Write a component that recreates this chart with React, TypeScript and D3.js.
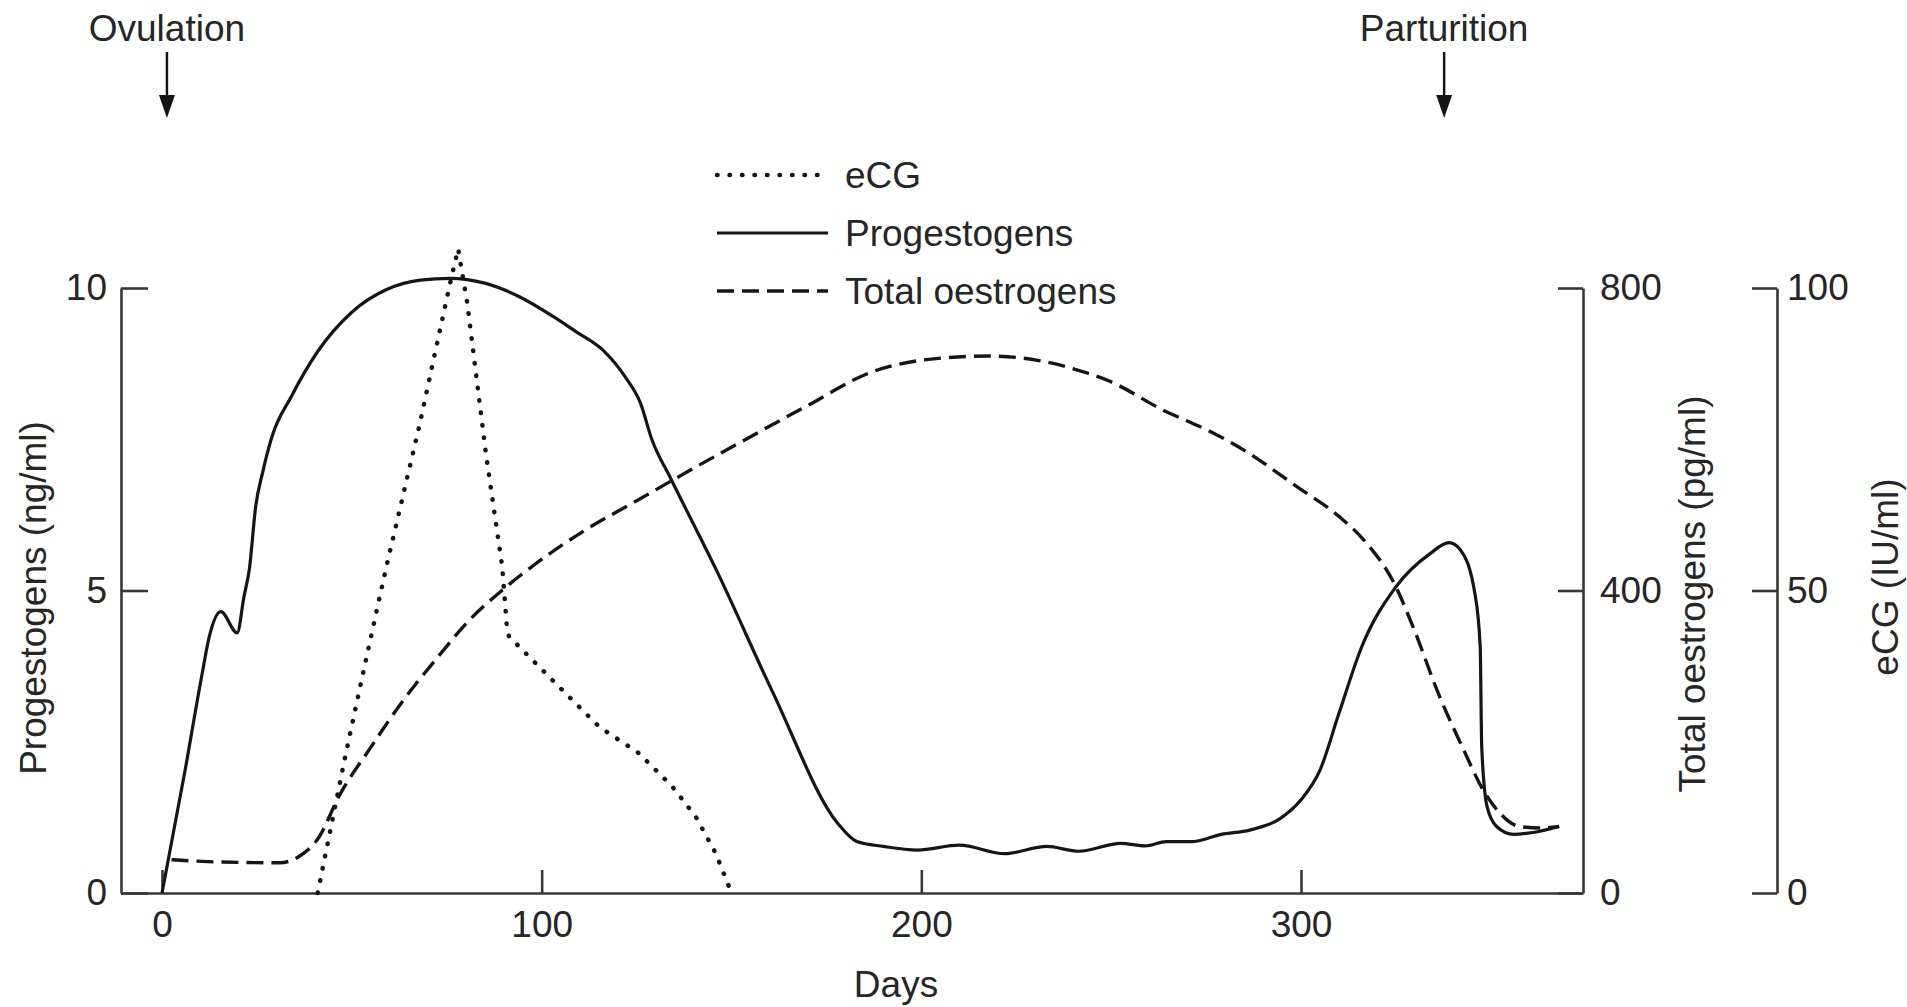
import React, { useRef, useEffect } from "react";
import * as d3 from "d3";

// progestogens (ng/ml), left axis
const progDays = [0, 6, 10.5, 12.5, 15.5, 19.8, 21.6, 23, 24.7, 26.5, 29, 34, 41, 50, 59, 68, 76, 85, 94, 103, 109, 116, 122, 126, 129, 134, 146, 161, 178, 183, 190, 199, 210, 222, 233, 241.5, 252.5, 259, 264.5, 271.5, 279, 286.5, 294.5, 300, 305, 310, 316, 325, 334, 339, 342, 345.8, 347.2, 347.6, 349, 351.5, 356, 361, 368];
const progValues = [0, 2.0, 3.6, 4.25, 4.65, 4.3, 4.9, 5.35, 6.4, 6.95, 7.55, 8.2, 8.95, 9.6, 9.97, 10.13, 10.16, 10.08, 9.86, 9.53, 9.28, 8.98, 8.53, 8.1, 7.5, 6.85, 5.34, 3.3, 1.15, 0.85, 0.77, 0.71, 0.79, 0.65, 0.77, 0.69, 0.82, 0.78, 0.85, 0.85, 0.97, 1.04, 1.23, 1.54, 2.03, 2.97, 4.07, 5.06, 5.61, 5.79, 5.67, 4.95, 4.07, 2.42, 1.43, 1.1, 0.97, 1.0, 1.1];

// total oestrogens (pg/ml), first right axis
const oesDays = [2.5, 15, 31, 36, 41.5, 46.5, 54.5, 63, 72, 81, 89.5, 97, 111.5, 125.5, 134.5, 152, 169.5, 187, 204.5, 218, 231, 244, 249, 263.5, 277, 285.5, 299, 310, 316.5, 325, 329.5, 336.5, 342.5, 348, 352.5, 357.5, 363, 368];
const oesValues = [44, 41, 40, 48, 75, 127, 189, 251, 308, 361, 400, 430, 480, 520, 546, 595, 643, 689, 707, 710, 704, 687, 678, 639, 608, 584, 537, 498, 467, 405, 352, 260, 193, 136, 105, 88, 86, 88];

// eCG (IU/ml), second right axis
const ecgDays = [41, 48.4, 53.7, 58.9, 67.7, 75.6, 78, 80.4, 85.3, 89.6, 90.9, 91.4, 102.8, 115.1, 125.6, 134.4, 140.6, 145.8, 150];
const ecgValues = [0, 23, 38.5, 53.4, 77, 100, 106.5, 97.5, 72.7, 54, 43.5, 42.4, 35.2, 27.5, 23.1, 17.6, 12.6, 6.6, 0];

const dayTicks = [0, 100, 200, 300];
const progTicks = [0, 5, 10];
const oesTicks = [0, 400, 800];
const ecgTicks = [0, 50, 100];

const events = [
  { label: "Ovulation", day: 1.3 },
  { label: "Parturition", day: 337.7 },
];

const legendItems = [
  { label: "eCG", dash: "0.5 12", width: 4.5, cap: "round" },
  { label: "Progestogens", dash: "none", width: 3.2, cap: "butt" },
  { label: "Total oestrogens", dash: "17 8", width: 3.4, cap: "butt" },
];

const FONT = "'Liberation Sans', Arial, Helvetica, sans-serif";

export default function App() {
  const svgRef = useRef<SVGSVGElement>(null);

  useEffect(() => {
    const w = 1907;
    const h = 1007;
    const svg = d3.select(svgRef.current);
    svg.selectAll("*").remove();
    svg.attr("width", w).attr("height", h);

    const left = 121;
    const right = 1583;
    const right2 = 1777;
    const top = 288;
    const bottom = 893;
    const ink = "#151515";
    const axisInk = "#383838";
    const textInk = "#262626";

    // scales
    const x = d3.scaleLinear().domain([0, 300]).range([162, 1301]);
    const xFull = d3.scaleLinear().domain([x.invert(left), x.invert(right)]).range([left, right]);
    const yProg = d3.scaleLinear().domain([0, 10]).range([bottom, top]);
    const yOes = d3.scaleLinear().domain([0, 800]).range([bottom, top]);
    const yEcg = d3.scaleLinear().domain([0, 100]).range([bottom, top]);

    const styleAxis = (g: any) => {
      g.select(".domain").attr("stroke", axisInk).attr("stroke-width", 2.6);
      g.selectAll(".tick line").attr("stroke", axisInk).attr("stroke-width", 2.6);
      g.selectAll("text")
        .attr("font-family", FONT)
        .attr("font-size", 37)
        .attr("fill", textInk);
    };

    // axes
    svg.append("g")
      .attr("transform", `translate(${left},0)`)
      .call(d3.axisLeft(yProg).tickValues(progTicks).tickSize(-27).tickSizeOuter(0).tickPadding(14))
      .call(styleAxis);

    svg.append("g")
      .attr("transform", `translate(0,${bottom})`)
      .call(d3.axisBottom(xFull).tickValues(dayTicks).tickSize(-23).tickSizeOuter(0).tickPadding(18))
      .call(styleAxis);

    svg.append("g")
      .attr("transform", `translate(${right},0)`)
      .call(d3.axisRight(yOes).tickValues(oesTicks).tickSize(-25).tickSizeOuter(0).tickPadding(17))
      .call(styleAxis);

    svg.append("g")
      .attr("transform", `translate(${right2},0)`)
      .call(d3.axisRight(yEcg).tickValues(ecgTicks).tickSize(-25).tickSizeOuter(0).tickPadding(10))
      .call(styleAxis);

    // axis titles
    const title = (tx: number, ty: number, rot: number, s: string) =>
      svg.append("text")
        .attr("transform", `translate(${tx},${ty}) rotate(${rot})`)
        .attr("text-anchor", "middle")
        .attr("font-family", FONT)
        .attr("font-size", 37)
        .attr("fill", textInk)
        .text(s);

    title(46, 598, -90, "Progestogens (ng/ml)");
    title(1705, 594, -90, "Total oestrogens (pg/ml)");
    title(1898, 577, -90, "eCG (IU/ml)");
    title(896, 997, 0, "Days");

    // lines
    const progLine = d3.line<number>()
      .x((d, i) => x(progDays[i]))
      .y((d) => yProg(d))
      .curve(d3.curveMonotoneX);

    const oesLine = d3.line<number>()
      .x((d, i) => x(oesDays[i]))
      .y((d) => yOes(d))
      .curve(d3.curveMonotoneX);

    const ecgLine = d3.line<number>()
      .x((d, i) => x(ecgDays[i]))
      .y((d) => yEcg(d));

    svg.append("path")
      .attr("d", oesLine(oesValues))
      .attr("fill", "none")
      .attr("stroke", ink)
      .attr("stroke-width", 3.4)
      .attr("stroke-dasharray", "17 8");

    svg.append("path")
      .attr("d", ecgLine(ecgValues))
      .attr("fill", "none")
      .attr("stroke", ink)
      .attr("stroke-width", 4.5)
      .attr("stroke-linecap", "round")
      .attr("stroke-dasharray", "0.5 12");

    svg.append("path")
      .attr("d", progLine(progValues))
      .attr("fill", "none")
      .attr("stroke", ink)
      .attr("stroke-width", 3.2)
      .attr("stroke-linejoin", "round");

    // legend
    legendItems.forEach((item, i) => {
      const ly = 175 + i * 58;
      svg.append("line")
        .attr("x1", 717)
        .attr("x2", 828)
        .attr("y1", ly)
        .attr("y2", ly)
        .attr("stroke", ink)
        .attr("stroke-width", item.width)
        .attr("stroke-linecap", item.cap)
        .attr("stroke-dasharray", item.dash);
      svg.append("text")
        .attr("x", 845)
        .attr("y", ly)
        .attr("dy", "0.35em")
        .attr("font-family", FONT)
        .attr("font-size", 37)
        .attr("fill", textInk)
        .text(item.label);
    });

    // event arrows
    events.forEach((ev) => {
      const ex = x(ev.day);
      svg.append("text")
        .attr("x", ex)
        .attr("y", 41)
        .attr("text-anchor", "middle")
        .attr("font-family", FONT)
        .attr("font-size", 37)
        .attr("fill", textInk)
        .text(ev.label);
      svg.append("line")
        .attr("x1", ex)
        .attr("x2", ex)
        .attr("y1", 52)
        .attr("y2", 100)
        .attr("stroke", ink)
        .attr("stroke-width", 2.5);
      svg.append("path")
        .attr("d", `M${ex - 8},95 L${ex + 8},95 L${ex},118 Z`)
        .attr("fill", ink);
    });
  }, []);

  return (
    <div>
      <svg
        ref={svgRef}
        style={{ position: "absolute", left: 0, top: 0, background: "#fff" }}
      ></svg>
    </div>
  );
}
